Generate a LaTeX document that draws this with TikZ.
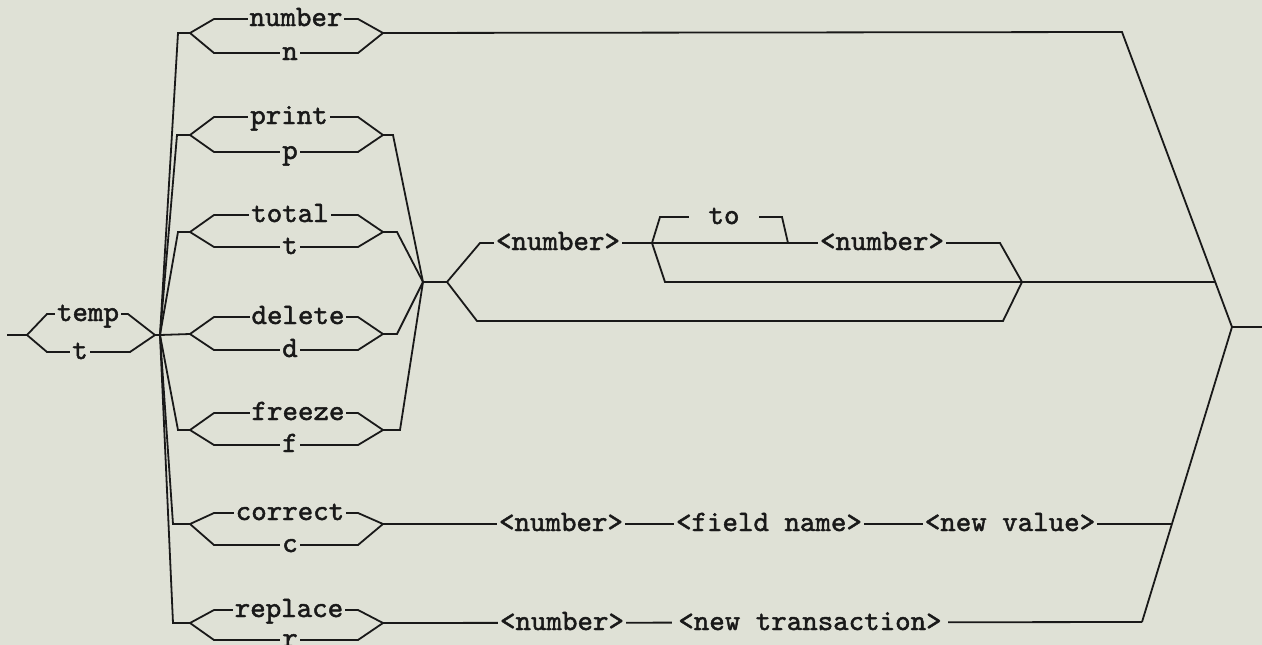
\documentclass[tikz,border=0pt]{standalone}
\usepackage{fontspec}
\newfontfamily\kwfam{lmmono10-regular.otf}[BoldFont=lmmono10-regular.otf, BoldFeatures={FakeBold=1.6}]
\definecolor{bg}{RGB}{223,225,214}
\definecolor{ink}{RGB}{25,25,25}
\newcommand\kwfont{\kwfam\bfseries\fontsize{29.5}{31}\selectfont}
\tikzset{
  rail/.style={line width=1.8pt, draw=ink, line join=miter},
  kw/.style={font=\kwfont, text=ink, fill=bg, inner xsep=2pt, inner ysep=0pt, anchor=base},
}
% two-way choice: #1 name, #2 centre y, #3 top y, #4 bottom y, #5 top word, #6 top word x, #7 bottom word
\newcommand\railalt[7]{%
  \coordinate (#1-in) at (190,#2);
  \coordinate (#1-out) at (383,#2);
  \draw[rail] (#1-in) -- (214,#3) -- (358,#3) -- (#1-out) -- (358,#4) -- (214,#4) -- cycle;
  \node[kw] (#1-top) at (#6,#3+7) {#5};
  \node[kw] (#1-bot) at (290,#4+7) {#7};
}
\begin{document}
\begin{tikzpicture}[x=1pt,y=-1pt]
\useasboundingbox (0,0) rectangle (1262,645);
\fill[bg] (0,0) rectangle (1262,645);

% entry: temp / t
\coordinate (start) at (7,335);
\coordinate (tin) at (27,335);
\coordinate (tout) at (155,335);
\coordinate (J) at (160,335);
\draw[rail] (start) -- (tin);
\draw[rail] (tin) -- (47,314) -- (128,314) -- (tout) -- (130,352) -- (47,352) -- cycle;
\draw[rail] (tout) -- (J);
\node[kw] (temp) at (88,321) {temp};
\node[kw] (tt) at (80,359) {t};

% choices
\railalt{num}{33}{19}{53}{number}{296}{n}
\railalt{prn}{135}{117}{152}{print}{289}{p}
\railalt{tot}{232}{215}{247}{total}{290}{t}
\railalt{del}{334}{317}{350}{delete}{298}{d}
\railalt{frz}{430}{413}{445}{freeze}{298}{f}
\railalt{cor}{524}{513}{545}{correct}{290}{c}
\railalt{rep}{623}{610}{640}{replace}{289}{r}

% fan from the junction
\draw[rail] (J) -- (178,33) -- (num-in);
\draw[rail] (J) -- (177,135) -- (prn-in);
\draw[rail] (J) -- (178,232) -- (tot-in);
\draw[rail] (J) -- (del-in);
\draw[rail] (J) -- (178,430) -- (frz-in);
\draw[rail] (J) -- (173,524) -- (cor-in);
\draw[rail] (J) -- (173,623) -- (rep-in);

% merge of print/total/delete/freeze
\coordinate (M) at (423,282);
\draw[rail] (prn-out) -- (393,135) -- (M);
\draw[rail] (tot-out) -- (397,232) -- (M);
\draw[rail] (del-out) -- (397,334) -- (M);
\draw[rail] (frz-out) -- (400,430) -- (M);

% optional <number> [ [to] <number> ]
\coordinate (A) at (447,282);
\coordinate (B) at (652,243);
\coordinate (C) at (1022,282);
\coordinate (D) at (1215,282);
\draw[rail] (M) -- (A);
\draw[rail] (A) -- (480,243) -- (B);
\draw[rail] (B) -- (660,217) -- (782,217) -- (788,243);
\draw[rail] (B) -- (1000,243) -- (C);
\draw[rail] (B) -- (665,282) -- (C);
\draw[rail] (A) -- (477,321) -- (1003,321) -- (C);
\draw[rail] (C) -- (D);
\node[kw] (n1) at (558,250) {<number>};
\node[kw, inner xsep=20pt] (to) at (724,224) {to};
\node[kw] (n2) at (882,250) {<number>};

% right side
\coordinate (E) at (1122,32);
\coordinate (F) at (1232,327);
\coordinate (end) at (1262,327);
\coordinate (H) at (1172,524);
\coordinate (G) at (1142,622);
\draw[rail] (num-out) -- (E) -- (F) -- (end);
\draw[rail] (F) -- (G);

% correct row
\draw[rail] (cor-out) -- (H);
\node[kw] (cn) at (561,531) {<number>};
\node[kw] (cf) at (769,531) {<field name>};
\node[kw] (cv) at (1010,531) {<new value>};

% replace row
\draw[rail] (rep-out) -- (G);
\node[kw] (rn) at (562,630) {<number>};
\node[kw, inner xsep=6pt] (rt) at (810,630) {<new transaction>};
\end{tikzpicture}
\end{document}
